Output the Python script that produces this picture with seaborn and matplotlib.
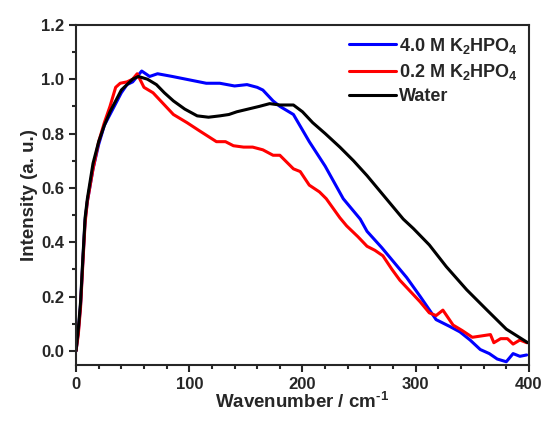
import pandas as pd
import seaborn as sns
import matplotlib.pyplot as plt
from matplotlib.ticker import MultipleLocator

# valores
x_azul = [0, 2, 4, 6, 8, 10, 15, 20, 25, 30, 35, 40, 45, 50, 58, 65, 72, 85, 103, 115, 127, 140, 151, 160, 165,
          174, 180, 192, 206, 220, 236, 251, 257, 270, 280, 292, 304, 318, 330, 339, 348, 357, 365, 372, 380, 386, 392, 398]
y_azul = [0.0, 0.07, 0.17, 0.33, 0.48, 0.55, 0.67, 0.76, 0.83, 0.87, 0.91, 0.95, 0.98, 0.99, 1.03, 1.01, 1.02, 1.01,
          0.995, 0.985, 0.985, 0.975, 0.98, 0.97, 0.96, 0.92, 0.90, 0.87, 0.77, 0.68, 0.56, 0.485, 0.44, 0.38, 0.33,
          0.27, 0.20, 0.115, 0.09, 0.07, 0.04, 0.005, -0.01, -0.03, -0.04, -0.01, -0.02, -0.015]

x_verm = [0, 2, 4, 6, 8, 10, 15, 20, 25, 30, 35, 39, 45, 50, 54, 60, 68, 77, 86, 98, 109, 124, 132, 139, 148, 156,
          165, 174, 180, 192, 198, 206, 215, 221, 233, 239, 249, 257, 264, 271, 279, 286, 295, 304, 312, 318, 324,
          333, 341, 350, 358, 366, 369, 375, 381, 386, 392, 398]
y_verm = [0.0, 0.06, 0.16, 0.32, 0.47, 0.55, 0.67, 0.77, 0.84, 0.90, 0.97, 0.985, 0.99, 1.0, 1.02, 0.97, 0.95, 0.91,
          0.87, 0.84, 0.81, 0.77, 0.77, 0.755, 0.75, 0.75, 0.74, 0.72, 0.72, 0.67, 0.66, 0.61, 0.585, 0.56, 0.49,
          0.46, 0.42, 0.385, 0.37, 0.35, 0.30, 0.26, 0.22, 0.18, 0.14, 0.13, 0.15, 0.095, 0.075, 0.05, 0.055, 0.06,
          0.03, 0.045, 0.045, 0.025, 0.04, 0.03]

x_agua = [0, 2, 4, 6, 8, 10, 15, 20, 25, 30, 35, 40, 45, 50, 55, 63, 71, 78, 86, 96, 107, 117, 127, 135, 142, 152,
          162, 171, 180, 192, 200, 209, 220, 233, 245, 257, 274, 289, 298, 312, 327, 345, 363, 380, 399]
y_agua = [0.0, 0.08, 0.18, 0.34, 0.49, 0.56, 0.69, 0.77, 0.83, 0.88, 0.92, 0.96, 0.98, 1.0, 1.01, 1.0, 0.98, 0.95,
          0.92, 0.89, 0.865, 0.86, 0.865, 0.87, 0.88, 0.89, 0.90, 0.91, 0.905, 0.905, 0.88, 0.84, 0.80, 0.75, 0.70,
          0.645, 0.56, 0.485, 0.45, 0.39, 0.31, 0.225, 0.15, 0.08, 0.03]

rotulos = ['4.0 M K$_2$HPO$_4$', '0.2 M K$_2$HPO$_4$', 'Water']
cores = ['#0000ff', '#ff0000', '#000000']

df = pd.concat([
    pd.DataFrame({'x': x_azul, 'y': y_azul, 'amostra': rotulos[0]}),
    pd.DataFrame({'x': x_verm, 'y': y_verm, 'amostra': rotulos[1]}),
    pd.DataFrame({'x': x_agua, 'y': y_agua, 'amostra': rotulos[2]}),
])

sns.set_style('ticks')
plt.rcParams['font.family'] = ['Liberation Sans', 'DejaVu Sans']
plt.rcParams['font.weight'] = 'bold'
plt.rcParams['mathtext.fontset'] = 'custom'
plt.rcParams['mathtext.rm'] = 'Liberation Sans:bold'
plt.rcParams['mathtext.it'] = 'Liberation Sans:bold'
plt.rcParams['mathtext.bf'] = 'Liberation Sans:bold'

fig = plt.figure(figsize=(5.47, 4.21), dpi=100)
ax = fig.add_axes([0.139, 0.133, 0.828, 0.808])

sns.lineplot(data=df, x='x', y='y', hue='amostra', palette=cores, linewidth=2.2,
             sort=False, estimator=None, ax=ax)

ax.set_xlim(0, 400)
ax.set_ylim(-0.052, 1.2)
ax.xaxis.set_major_locator(MultipleLocator(100))
ax.xaxis.set_minor_locator(MultipleLocator(20))
ax.yaxis.set_major_locator(MultipleLocator(0.2))
ax.yaxis.set_minor_locator(MultipleLocator(0.1))
ax.yaxis.set_major_formatter(plt.FormatStrFormatter('%.1f'))
ax.tick_params(which='major', length=5, width=1.5, labelsize=12, direction='out')
ax.tick_params(which='minor', length=3, width=1.5, direction='out')
for lb in ax.get_xticklabels() + ax.get_yticklabels():
    lb.set_fontweight('bold')
for s in ax.spines.values():
    s.set_linewidth(1.5)

ax.set_xlabel('Wavenumber / cm$^{\\text{-1}}$', fontsize=13.5, fontweight='bold', labelpad=0)
ax.set_ylabel('Intensity (a. u.)', fontsize=13.5, fontweight='bold', labelpad=2)

ax.legend(title=None, loc='upper right', frameon=False, fontsize=13, handlelength=2.6,
          handletextpad=0.2, labelspacing=0.35, borderaxespad=0.2)

fig.savefig('out.png', dpi=100)
